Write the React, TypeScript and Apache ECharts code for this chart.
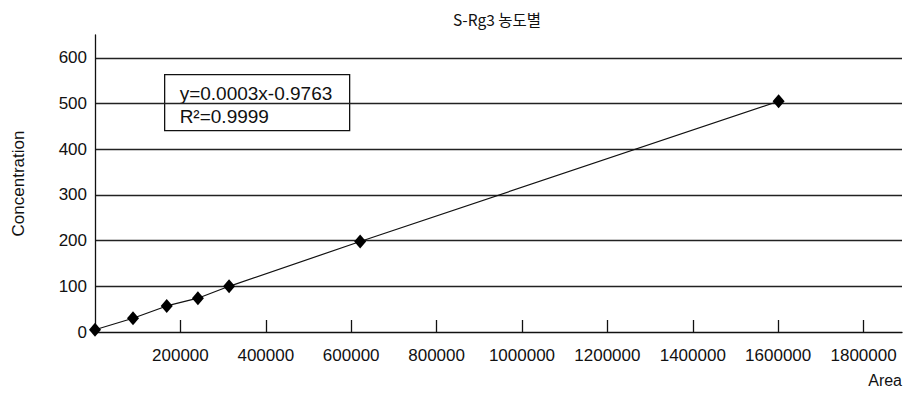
import React, { useEffect, useRef } from "react";
import * as echarts from "echarts";

const titleText = "S-Rg3 농도별";
const xName = "Area";
const yName = "Concentration";
const areaValues = [0, 89000, 168000, 241000, 314000, 621000, 1601000];
const concentrationValues = [5, 30, 57, 74, 100, 198, 505];
const xTickValues = [200000, 400000, 600000, 800000, 1000000, 1200000, 1400000, 1600000, 1800000];
const equationLines = ["y=0.0003x-0.9763", "R\u00B2=0.9999"];

const FONT = "'Liberation Sans', Arial, sans-serif";

export default function App() {
  const ref = useRef<HTMLDivElement>(null);
  useEffect(() => {
    if (!ref.current) return;
    const chart = echarts.init(ref.current, null, { renderer: "svg" });
    const data = areaValues.map((x, i) => [x, concentrationValues[i]]);
    chart.setOption({
      animation: false,
      backgroundColor: "#ffffff",
      textStyle: { fontFamily: FONT, color: "#000" },
      title: {
        text: titleText,
        left: 492,
        top: 6,
        textAlign: "center",
        textStyle: { fontFamily: "'Noto Sans CJK KR', sans-serif", fontSize: 15.5, fontWeight: "normal", color: "#111" },
      },
      grid: { left: 95, right: 4, top: 35, bottom: 61, containLabel: false },
      xAxis: {
        type: "value",
        min: 0,
        max: 1890000,
        interval: 200000,
        name: xName,
        nameLocation: "end",
        nameGap: 0,
        nameTextStyle: { fontFamily: FONT, fontSize: 16, color: "#111", align: "right", verticalAlign: "top", padding: [40, 0, 0, 0] },
        axisLine: { show: true, lineStyle: { color: "#111", width: 1.3 } },
        axisTick: { show: true, inside: true, length: 12, customValues: xTickValues, lineStyle: { color: "#111", width: 1.3 } },
        axisLabel: {
          customValues: xTickValues,
          margin: 15,
          fontFamily: FONT,
          fontSize: 17,
          color: "#111",
          formatter: (v: number) => String(v),
        },
        splitLine: { show: false },
      },
      yAxis: {
        type: "value",
        min: 0,
        max: 650,
        interval: 100,
        name: yName,
        nameLocation: "middle",
        nameGap: 68,
        nameRotate: 90,
        nameTextStyle: { fontFamily: FONT, fontSize: 17, color: "#111" },
        axisLine: { show: true, lineStyle: { color: "#111", width: 1.3 } },
        axisTick: { show: false },
        axisLabel: {
          showMaxLabel: false,
          margin: 8,
          fontFamily: FONT,
          fontSize: 17,
          color: "#111",
          formatter: (v: number) => String(v),
        },
        splitLine: { show: true, showMinLine: false, showMaxLine: false, lineStyle: { color: "#222", width: 1.3 } },
      },
      series: [
        {
          type: "line",
          data,
          symbol: "diamond",
          symbolSize: [12, 14],
          itemStyle: { color: "#000" },
          lineStyle: { color: "#111", width: 1.2 },
          clip: false,
          z: 5,
        },
      ],
      graphic: [
        {
          type: "group",
          left: 164,
          top: 74,
          z: 10,
          children: [
            {
              type: "rect",
              shape: { x: 0, y: 0, width: 185, height: 56 },
              style: { fill: "#fff", stroke: "#111", lineWidth: 1.3 },
            },
            {
              type: "text",
              x: 15,
              y: 19,
              style: { text: equationLines[0], fontFamily: FONT, fontSize: 19, fill: "#111", verticalAlign: "middle" },
            },
            {
              type: "text",
              x: 15,
              y: 42,
              style: { text: equationLines[1], fontFamily: FONT, fontSize: 19, fill: "#111", verticalAlign: "middle" },
            },
          ],
        },
      ],
    });
    return () => chart.dispose();
  }, []);
  return <div ref={ref} style={{ position: "fixed", left: 0, top: 0, width: 906, height: 393 }} />;
}
